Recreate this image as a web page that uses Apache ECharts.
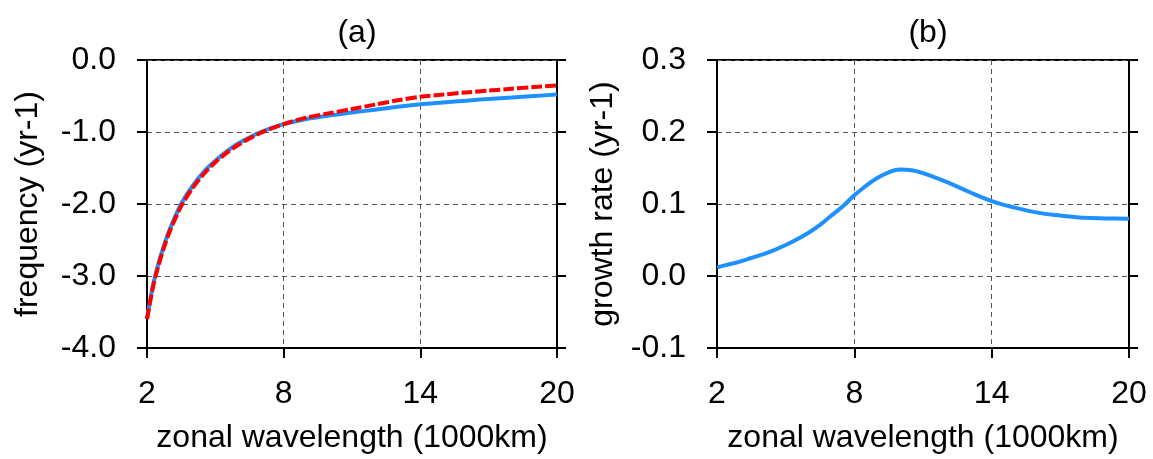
<!DOCTYPE html>
<html>
<head>
<meta charset="utf-8">
<script src="https://cdn.jsdelivr.net/npm/echarts@6/dist/echarts.min.js"></script>
<style>
  html, body { margin: 0; padding: 0; background: #fff; }
  #chart { width: 1153px; height: 459px; }
</style>
</head>
<body>
<div id="chart"></div>
<script>
// Zonal wavelength (1000 km) for panel (a)
const wavelengthA = [2, 2.25, 2.5, 2.75, 3, 3.5, 4, 4.5, 5, 5.5, 6, 7, 8, 9, 10, 11, 12, 13, 14, 15, 16, 17, 18, 19, 20];

// Panel (a): frequency (yr-1), numerical solution and approximation
const freqModel = [-3.60, -3.15, -2.83, -2.57, -2.35, -2.00, -1.75, -1.55, -1.40, -1.27, -1.16, -1.00, -0.89, -0.82, -0.77, -0.73, -0.69, -0.65, -0.615, -0.59, -0.565, -0.54, -0.52, -0.50, -0.48];
const freqApprox = [-3.60, -3.17, -2.86, -2.60, -2.38, -2.03, -1.78, -1.58, -1.42, -1.29, -1.18, -1.01, -0.89, -0.80, -0.74, -0.68, -0.62, -0.56, -0.51, -0.48, -0.45, -0.425, -0.40, -0.375, -0.355];

// Zonal wavelength (1000 km) for panel (b)
const wavelengthB = [2, 2.5, 3, 3.5, 4, 4.5, 5, 5.5, 6, 6.5, 7, 7.5, 8, 8.5, 9, 9.5, 10, 10.5, 11, 12, 13, 14, 15, 16, 17, 18, 19, 20];

// Panel (b): growth rate (yr-1)
const growthRate = [0.012, 0.016, 0.020, 0.025, 0.030, 0.036, 0.043, 0.051, 0.060, 0.071, 0.084, 0.097, 0.112, 0.125, 0.136, 0.144, 0.148, 0.147, 0.143, 0.131, 0.117, 0.104, 0.095, 0.088, 0.084, 0.081, 0.080, 0.0795];

// Tick values
const xTicks = [2, 8, 14, 20];
const freqRange = { min: -4, max: 0, interval: 1 };
const growthRange = { min: -0.1, max: 0.3, interval: 0.1 };

const FONT = '"Liberation Sans", Arial, Helvetica, sans-serif';
const FS = 32;
const gridLine = { show: true, lineStyle: { color: '#555', width: 1, type: [5, 4] } };
const tickStyle = { show: true, inside: false, length: 10, lineStyle: { color: '#000', width: 2 } };
const axisLineStyle = { show: true, onZero: false, lineStyle: { color: '#000', width: 2 } };

function pairs(xs, ys) {
  return xs.map((x, i) => [x, ys[i]]);
}

function xAxisFor(gridIndex) {
  return {
    type: 'value', gridIndex,
    min: xTicks[0], max: xTicks[xTicks.length - 1], interval: xTicks[1] - xTicks[0],
    axisLine: axisLineStyle, axisTick: tickStyle,
    axisLabel: { color: '#000', fontSize: FS, fontFamily: FONT, margin: 30 },
    splitLine: gridLine,
    name: 'zonal wavelength (1000km)', nameLocation: 'middle', nameGap: 74,
    nameTextStyle: { color: '#000', fontSize: FS, fontFamily: FONT }
  };
}

function yAxisFor(gridIndex, range, name, gap, digits) {
  return {
    type: 'value', gridIndex, position: 'left',
    min: range.min, max: range.max, interval: range.interval,
    axisLine: axisLineStyle, axisTick: tickStyle,
    axisLabel: { color: '#000', fontSize: FS, fontFamily: FONT, margin: 31,
      formatter: v => v.toFixed(digits) },
    splitLine: gridLine,
    name, nameLocation: 'middle', nameGap: gap,
    nameTextStyle: { color: '#000', fontSize: FS, fontFamily: FONT }
  };
}

function rightTicksFor(gridIndex, range) {
  return {
    type: 'value', gridIndex, position: 'right',
    min: range.min, max: range.max, interval: range.interval,
    axisLine: axisLineStyle, axisTick: { ...tickStyle, length: 9 },
    axisLabel: { show: false }, splitLine: { show: false }
  };
}

const chart = echarts.init(document.getElementById('chart'), null, { renderer: 'canvas' });
chart.setOption({
  backgroundColor: '#fff',
  animation: false,
  title: [
    { text: '(a)', left: 352, top: 12, textAlign: 'center',
      textStyle: { color: '#000', fontSize: FS, fontWeight: 'normal', fontFamily: FONT } },
    { text: '(b)', left: 923, top: 12, textAlign: 'center',
      textStyle: { color: '#000', fontSize: FS, fontWeight: 'normal', fontFamily: FONT } }
  ],
  grid: [
    { left: 147, top: 60, width: 410, height: 293, show: true, borderColor: '#000', borderWidth: 2 },
    { left: 717, top: 60, width: 412, height: 293, show: true, borderColor: '#000', borderWidth: 2 }
  ],
  xAxis: [xAxisFor(0), xAxisFor(1)],
  yAxis: [
    yAxisFor(0, freqRange, 'frequency (yr-1)', 103, 1),
    rightTicksFor(0, freqRange),
    yAxisFor(1, growthRange, 'growth rate (yr-1)', 98, 1),
    rightTicksFor(1, growthRange)
  ],
  series: [
    { type: 'line', xAxisIndex: 0, yAxisIndex: 0, data: pairs(wavelengthA, freqModel),
      smooth: 0.3, showSymbol: false, lineStyle: { color: '#1e90ff', width: 4 } },
    { type: 'line', xAxisIndex: 0, yAxisIndex: 0, data: pairs(wavelengthA, freqApprox),
      smooth: 0.3, showSymbol: false, lineStyle: { color: '#ff0000', width: 4, type: [11, 3] } },
    { type: 'line', xAxisIndex: 1, yAxisIndex: 2, data: pairs(wavelengthB, growthRate),
      smooth: 0.4, showSymbol: false, lineStyle: { color: '#1e90ff', width: 4 } }
  ]
});
</script>
</body>
</html>
